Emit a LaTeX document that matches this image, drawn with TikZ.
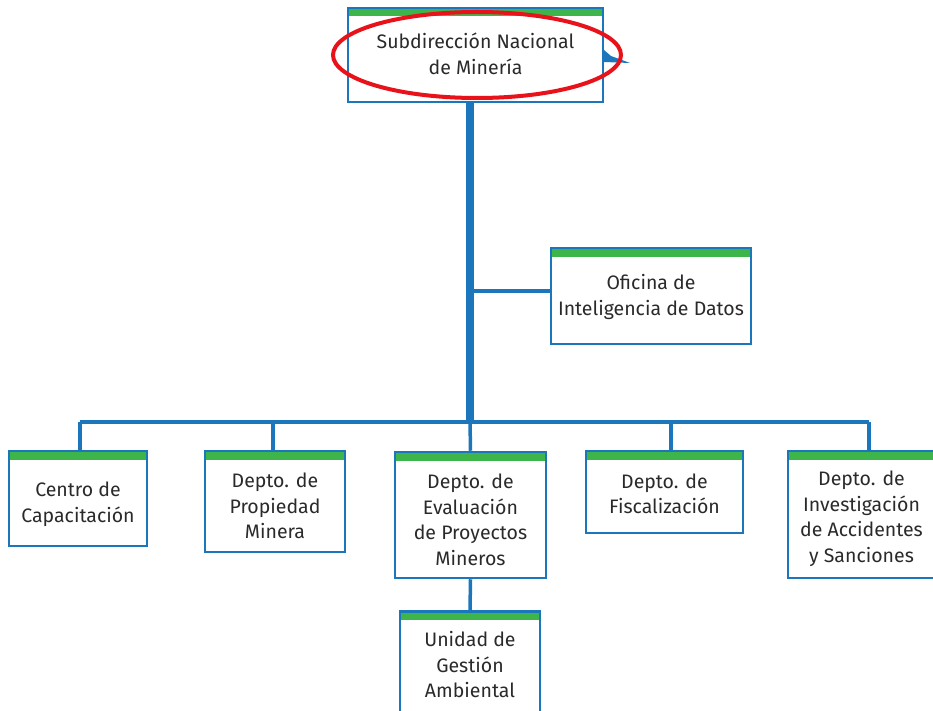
\documentclass[tikz,border=0pt]{standalone}
\usepackage{fontspec}
\setmainfont{Fira Sans}
\definecolor{orgblue}{HTML}{1C76BC}
\definecolor{orggreen}{HTML}{3DB54A}
\definecolor{txtgray}{HTML}{2A2A2A}
\definecolor{markred}{HTML}{E8121A}
\newcommand\boxtext[2]{\raisebox{#1}[\height][\depth]{\begin{tabular}{@{}c@{}}#2\end{tabular}}}
\begin{document}
\begin{tikzpicture}[x=1pt,y=-1pt,
  orgbox/.style={draw=orgblue, line width=2.5pt, fill=white, inner sep=0pt,
    text=txtgray, font=\fontsize{19.5}{25.5}\selectfont,
    path picture={\fill[orggreen] (path picture bounding box.north west) rectangle ([yshift=-8.5pt]path picture bounding box.north east);}},
  thin link/.style={draw=orgblue, line width=3.5pt},
  trunk/.style={draw=orgblue, line width=8pt}]
\useasboundingbox (0,0) rectangle (933,711);
% boxes
\node[orgbox, minimum width=255pt, minimum height=94pt] (top) at (475.5,55) {\boxtext{-1.5pt}{Subdirección Nacional\\de Minería}};
\node[orgbox, minimum width=200pt, minimum height=96pt] (ofi) at (651,296) {\boxtext{-1.5pt}{Oficina de\\Inteligencia de Datos}};
\node[orgbox, minimum width=138pt, minimum height=95pt] (cen) at (78,498.5) {\boxtext{-6pt}{Centro de\\Capacitación}};
\node[orgbox, minimum width=140pt, minimum height=101pt] (pro) at (275,501.5) {\boxtext{-6.5pt}{Depto. de\\Propiedad\\Minera}};
\node[orgbox, minimum width=151pt, minimum height=126pt] (eva) at (470.5,515) {\boxtext{-7pt}{Depto. de\\Evaluación\\de Proyectos\\Mineros}};
\node[orgbox, minimum width=157pt, minimum height=82pt] (fis) at (664.5,492) {\boxtext{-4pt}{Depto. de\\Fiscalización}};
\node[orgbox, minimum width=147pt, minimum height=127pt] (inv) at (861.5,514.5) {\boxtext{-4.5pt}{Depto. de\\Investigación\\de Accidentes\\y Sanciones}};
\node[orgbox, minimum width=140pt, minimum height=110pt, anchor=north] (uni) at (470,610) {\boxtext{-1pt}{Unidad de\\Gestión\\Ambiental}};
% connectors
\coordinate (busL) at (80,422);
\coordinate (busR) at (869,422);
\coordinate (busM) at (470,422);
\draw[thin link] (busL) -- (busR);
\draw[trunk] (top.south -| busM) -- ([yshift=2pt]busM);
\draw[thin link] (470,291) -- (ofi.west |- 0,291);
\draw[thin link] (busL) -- (busL |- cen.north);
\draw[thin link] (273,422) -- (273,451);
\draw[thin link] (busM) -- (eva.north);
\draw[thin link] (671,422) -- (671,451);
\draw[thin link] (busR) -- (busR |- inv.north);
\draw[thin link] (eva.south) -- (uni.north);
% small blue mark at top box edge
\fill[orgblue] (604,50) -- (611,56) -- (630,63) -- (604,62) -- cycle;
% red highlight ellipse
\draw[markred, line width=4pt] (477,55) ellipse [x radius=144, y radius=43];
\end{tikzpicture}
\end{document}
